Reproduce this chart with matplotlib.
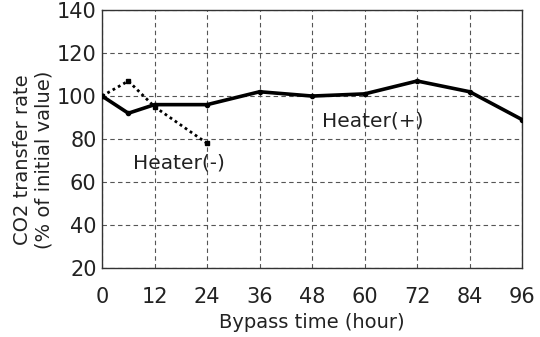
import numpy as np
import matplotlib.pyplot as plt

# Data
hours_plus = [0, 6, 12, 24, 36, 48, 60, 72, 84, 96]
rate_plus = [100, 92, 96, 96, 102, 100, 101, 107, 102, 89]

hours_minus = [0, 6, 12, 24]
rate_minus = [100, 107, 95, 78]

x_ticks = [0, 12, 24, 36, 48, 60, 72, 84, 96]
y_ticks = [20, 40, 60, 80, 100, 120, 140]

plt.rcParams["font.family"] = "DejaVu Sans"
plt.rcParams["font.size"] = 14

fig = plt.figure(figsize=(5.4, 3.37), dpi=100)
ax = fig.add_axes([0.189, 0.205, 0.778, 0.765])

ax.plot(hours_plus, rate_plus, color='black', lw=2.6, marker='o', ms=3, zorder=3)
ax.plot(hours_minus, rate_minus, color='black', lw=2, ls=(0, (1, 1.2)),
        marker='s', ms=3.5, zorder=3)

ax.text(7.1, 69, "Heater(-)", fontsize=14.5, va='center', ha='left', color='#222222')
ax.text(50.3, 88.5, "Heater(+)", fontsize=14.5, va='center', ha='left', color='#222222')

ax.set_xlim(0, 96)
ax.set_ylim(20, 140)
ax.set_xticks(x_ticks)
ax.set_yticks(y_ticks)
ax.tick_params(length=0, labelsize=15, colors='#222222')
ax.tick_params(axis='x', pad=14)
ax.tick_params(axis='y', pad=4)
ax.grid(True, ls=(0, (4, 3)), color='#555555', lw=0.8)
for s in ax.spines.values():
    s.set_color('#333333')
    s.set_linewidth(1.0)

ax.set_xlabel("Bypass time (hour)", fontsize=14, color='#222222', labelpad=4)
ax.set_ylabel("CO2 transfer rate\n(% of initial value)", fontsize=14,
              color='#222222', linespacing=1.2)
ax.yaxis.set_label_coords(-0.115, 0.42)

fig.savefig("out.png", dpi=100)
